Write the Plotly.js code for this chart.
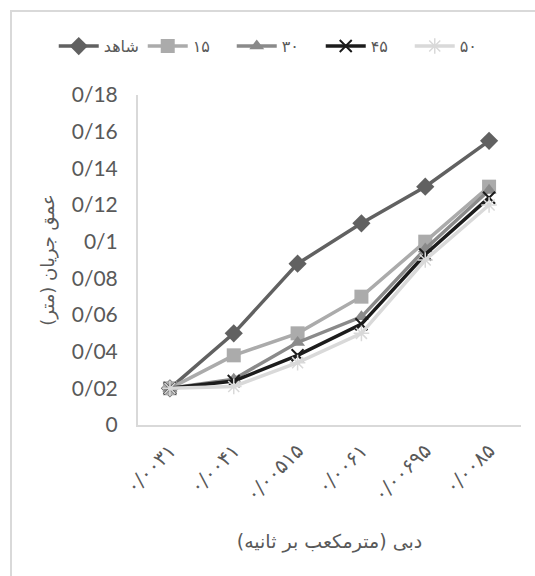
<!DOCTYPE html>
<html>
<head>
<meta charset="utf-8">
<script src="https://cdn.plot.ly/plotly-3.0.1.min.js"></script>
<style>
html,body{margin:0;padding:0;background:#fff;}
#wrap{position:relative;width:535px;height:576px;}
#chart{position:absolute;left:0;top:0;width:535px;height:576px;}
#frame{position:absolute;left:10px;top:10px;width:530px;height:570px;border-left:2px solid #d9d9d9;border-top:2px solid #d9d9d9;pointer-events:none;}
</style>
</head>
<body>
<div id="wrap"><div id="chart"></div><div id="frame"></div></div>
<script>
// Categories (discharge, m3/s) as shown in Persian digits
var categories = ["۰/۰۰۳۱", "۰/۰۰۴۱", "۰/۰۰۵۱۵", "۰/۰۰۶۱", "۰/۰۰۶۹۵", "۰/۰۰۸۵"];
// Series names
var seriesNames = ["شاهد", "۱۵", "۳۰", "۴۵", "۵۰"];
// Flow depth (m)
var control = [0.02, 0.05, 0.088, 0.11, 0.13, 0.155];
var s15 = [0.02, 0.038, 0.05, 0.07, 0.1, 0.13];
var s30 = [0.02, 0.025, 0.045, 0.059, 0.096, 0.128];
var s45 = [0.02, 0.024, 0.038, 0.055, 0.093, 0.124];
var s50 = [0.02, 0.021, 0.034, 0.05, 0.09, 0.12];
// Y tick labels
var yTickVals = [0, 0.02, 0.04, 0.06, 0.08, 0.1, 0.12, 0.14, 0.16, 0.18];
var yTickText = ["0", "0/02", "0/04", "0/06", "0/08", "0/1", "0/12", "0/14", "0/16", "0/18"];

var font = "Lato, 'DejaVu Sans', sans-serif";
var arFont = "'DejaVu Sans', sans-serif";
var tc = "#595959";

function tr(name, y, color, symbol, size, lw, open) {
  var m = {symbol: symbol, size: size, color: color};
  if (open) { m.line = {color: color, width: lw}; }
  else { m.line = {width: 0}; }
  return {x: categories, y: y, name: name, type: "scatter", mode: "lines+markers",
          line: {color: color, width: 3.5}, marker: m};
}

var data = [
  tr(seriesNames[0], control, "#616161", "diamond", 14, 0, false),
  tr(seriesNames[1], s15, "#ababab", "square", 14, 0, false),
  tr(seriesNames[2], s30, "#8a8a8a", "triangle-up", 13, 0, false),
  tr(seriesNames[3], s45, "#1c1c1c", "x-thin-open", 12, 2, true),
  tr(seriesNames[4], s50, "#d9d9d9", "asterisk-open", 13, 1.5, true)
];

var layout = {
  width: 535, height: 576,
  margin: {l: 138, r: 14, t: 95, b: 151},
  paper_bgcolor: "#ffffff", plot_bgcolor: "#ffffff",
  font: {family: font, color: tc, size: 16},
  showlegend: true,
  legend: {orientation: "h", x: -0.22, xanchor: "left",
           y: 1.148, yanchor: "middle", font: {size: 16, color: tc, family: arFont},
           itemwidth: 40, entrywidth: 34, bgcolor: "rgba(0,0,0,0)"},
  xaxis: {type: "category", range: [-0.5, 5.5], showgrid: false, zeroline: false,
          showline: true, linecolor: "#d9d9d9", linewidth: 2, ticks: "",
          tickangle: -45, tickfont: {size: 20, color: tc, family: arFont}, ticklabelstandoff: 4,
          title: {text: "دبی (مترمکعب بر ثانیه)", font: {size: 19, color: tc, family: arFont}, standoff: 30},
          automargin: false},
  yaxis: {range: [0, 0.18], tickvals: yTickVals, ticktext: yTickText, showgrid: false,
          zeroline: false, showline: true, linecolor: "#d9d9d9", linewidth: 2, ticks: "",
          ticklabelstandoff: 14, tickfont: {size: 21, color: tc},
          title: {text: "عمق جریان (متر)", font: {size: 18, color: tc, family: arFont}, standoff: 12},
          automargin: false}
};

Plotly.newPlot("chart", data, layout, {displayModeBar: false, staticPlot: true});
</script>
</body>
</html>
